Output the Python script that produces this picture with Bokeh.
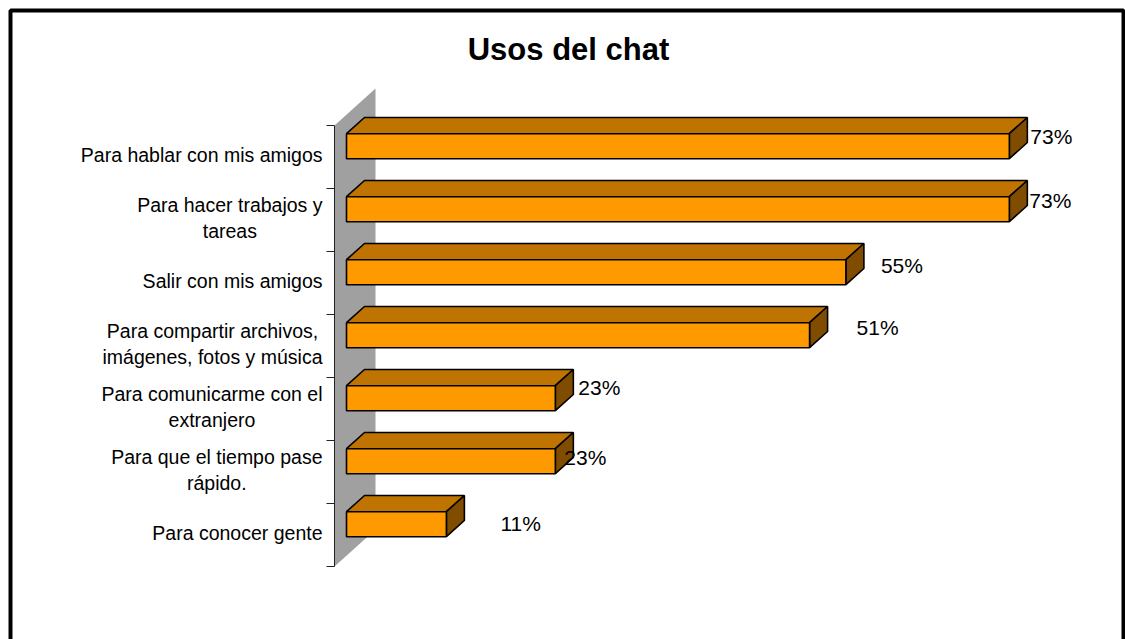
from bokeh.plotting import figure
from bokeh.models import Range1d, Label, ColumnDataSource
from bokeh.core.properties import value
from bokeh.embed import file_html
from bokeh.resources import INLINE

# ---------------- data ----------------
chart_title = "Usos del chat"
categories = [
    "Para hablar con mis amigos",
    "Para hacer trabajos y\ntareas",
    "Salir con mis amigos",
    "Para compartir archivos,\nimágenes, fotos y música",
    "Para comunicarme con el\nextranjero",
    "Para que el tiempo pase\nrápido.",
    "Para conocer gente",
]
percentages = [73, 73, 55, 51, 23, 23, 11]

# ---------------- style / layout ----------------
W, H = 1125, 639
PX = 9.08          # pixels per percent
BAND = 63          # pixels per category band
AXIS_X = 334       # canvas x of the zero plane
AXIS_TOP = 125     # canvas y of the first tick
FRONT, BACK, WALL = 12, 30, 41   # depth (px) of bar front, bar back, wall
SLOPE = 0.9
BAR_H = 25
FONT = "Liberation Sans"
CAT_SIZE = 19.5
label_dx = [3, 2, 17, 29, 5, -9, 36]
label_dy = [-20.5, -19.5, -17.5, -18.5, -21.5, -15, -11.5]

FRONT_C, TOP_C, SIDE_C = "#FF9900", "#BF7300", "#804D00"
WALL_C = "#A0A0A0"

# Arial / Liberation Sans advance widths (1/1000 em) for centring wrapped labels
CW = {' ': 278, ',': 278, '.': 278, 'P': 667, 'S': 667, 'a': 556, 'b': 556,
      'c': 500, 'd': 556, 'e': 556, 'f': 278, 'g': 556, 'h': 556, 'i': 222,
      'j': 222, 'k': 500, 'l': 222, 'm': 833, 'n': 556, 'o': 556, 'p': 556,
      'q': 556, 'r': 333, 's': 500, 't': 278, 'u': 556, 'v': 500, 'x': 500,
      'y': 500, 'z': 500, 'á': 556, 'é': 556, 'í': 278, 'ó': 556, 'ú': 556}


def text_width(s, size):
    return max(sum(CW.get(c, 556) for c in line) for line in s.split("\n")) * size / 1000.0


n = len(categories)
x_start, x_end = -AXIS_X / PX, (W - AXIS_X) / PX
y_bottom, y_top = (H - AXIS_TOP) / BAND, -AXIS_TOP / BAND


def xpx(px):   # canvas pixel -> data x
    return (px - AXIS_X) / PX


def ypx(py):   # canvas pixel -> data y
    return (py - AXIS_TOP) / BAND


p = figure(width=W, height=H, output_backend="svg", toolbar_location=None,
           x_range=Range1d(x_start, x_end), y_range=Range1d(y_bottom, y_top),
           x_axis_location=None, y_axis_location=None, min_border=0)
p.grid.visible = False
p.outline_line_color = None
p.background_fill_color = "white"
p.border_fill_color = "white"

# side wall
wx, wy = WALL / PX, WALL * SLOPE / BAND
p.patch([0, wx, wx, 0], [0, -wy, n - wy, n], fill_color=WALL_C, line_color=None)

# axis line and ticks
p.segment(x0=[0], y0=[0], x1=[0], y1=[n], line_color="#222222", line_width=1)
p.segment(x0=[0] * (n + 1), y0=list(range(n + 1)), x1=[-8 / PX] * (n + 1),
          y1=list(range(n + 1)), line_color="#222222", line_width=1)

# bars
fx, fy = FRONT / PX, FRONT * SLOPE / BAND
dxv, dyu = (BACK - FRONT) / PX, (BACK - FRONT) * SLOPE / BAND
hh = BAR_H / 2 / BAND
top_xs, top_ys, side_xs, side_ys, fc, fl, fr = [], [], [], [], [], [], []
for i, v in enumerate(percentages):
    yc = i + 0.5 - fy
    t, b = yc - hh, yc + hh
    top_xs.append([fx, v + fx, v + fx + dxv, fx + dxv])
    top_ys.append([t, t, t - dyu, t - dyu])
    side_xs.append([v + fx, v + fx + dxv, v + fx + dxv, v + fx])
    side_ys.append([t, t - dyu, b - dyu, b])
    fc.append(yc)
    fl.append(fx)
    fr.append(v + fx)

p.patches(top_xs, top_ys, fill_color=TOP_C, line_color="black", line_width=1.6)
p.patches(side_xs, side_ys, fill_color=SIDE_C, line_color="black", line_width=1.6)
p.hbar(y=fc, left=fl, right=fr, height=2 * hh, fill_color=FRONT_C,
       line_color="black", line_width=1.6)

# value labels
vsrc = ColumnDataSource(dict(
    x=[v + fx + dxv for v in percentages],
    y=[i + 0.5 for i in range(n)],
    t=[f"{v}%" for v in percentages],
    dx=label_dx, dy=label_dy))
p.text(x="x", y="y", text="t", x_offset="dx", y_offset="dy", source=vsrc,
       text_font=value(FONT), text_font_size=value("21px"), text_color="black",
       text_align="left", text_baseline="middle")

# category labels
csrc = ColumnDataSource(dict(
    x=[0] * n, y=[i + 0.5 for i in range(n)], t=categories,
    dx=[-(12 + text_width(c, CAT_SIZE) / 2) for c in categories]))
p.text(x="x", y="y", text="t", x_offset="dx", y_offset=-2, source=csrc,
       text_font=value(FONT), text_font_size=value(f"{CAT_SIZE}px"),
       text_color="black", text_align="center", text_baseline="middle",
       text_line_height=1.2)

# title
p.add_layout(Label(x=xpx(568), y=ypx(49), text=chart_title,
                   text_font=FONT, text_font_size="31px", text_font_style="bold",
                   text_align="center", text_baseline="middle", text_color="black"))

# chart border (bottom edge lies beyond the visible page)
p.quad(left=[xpx(10)], right=[xpx(1123)], top=[ypx(10)], bottom=[ypx(H + 20)],
       fill_color=None, line_color="black", line_width=4)

open("out.html", "w").write(file_html(p, INLINE))
